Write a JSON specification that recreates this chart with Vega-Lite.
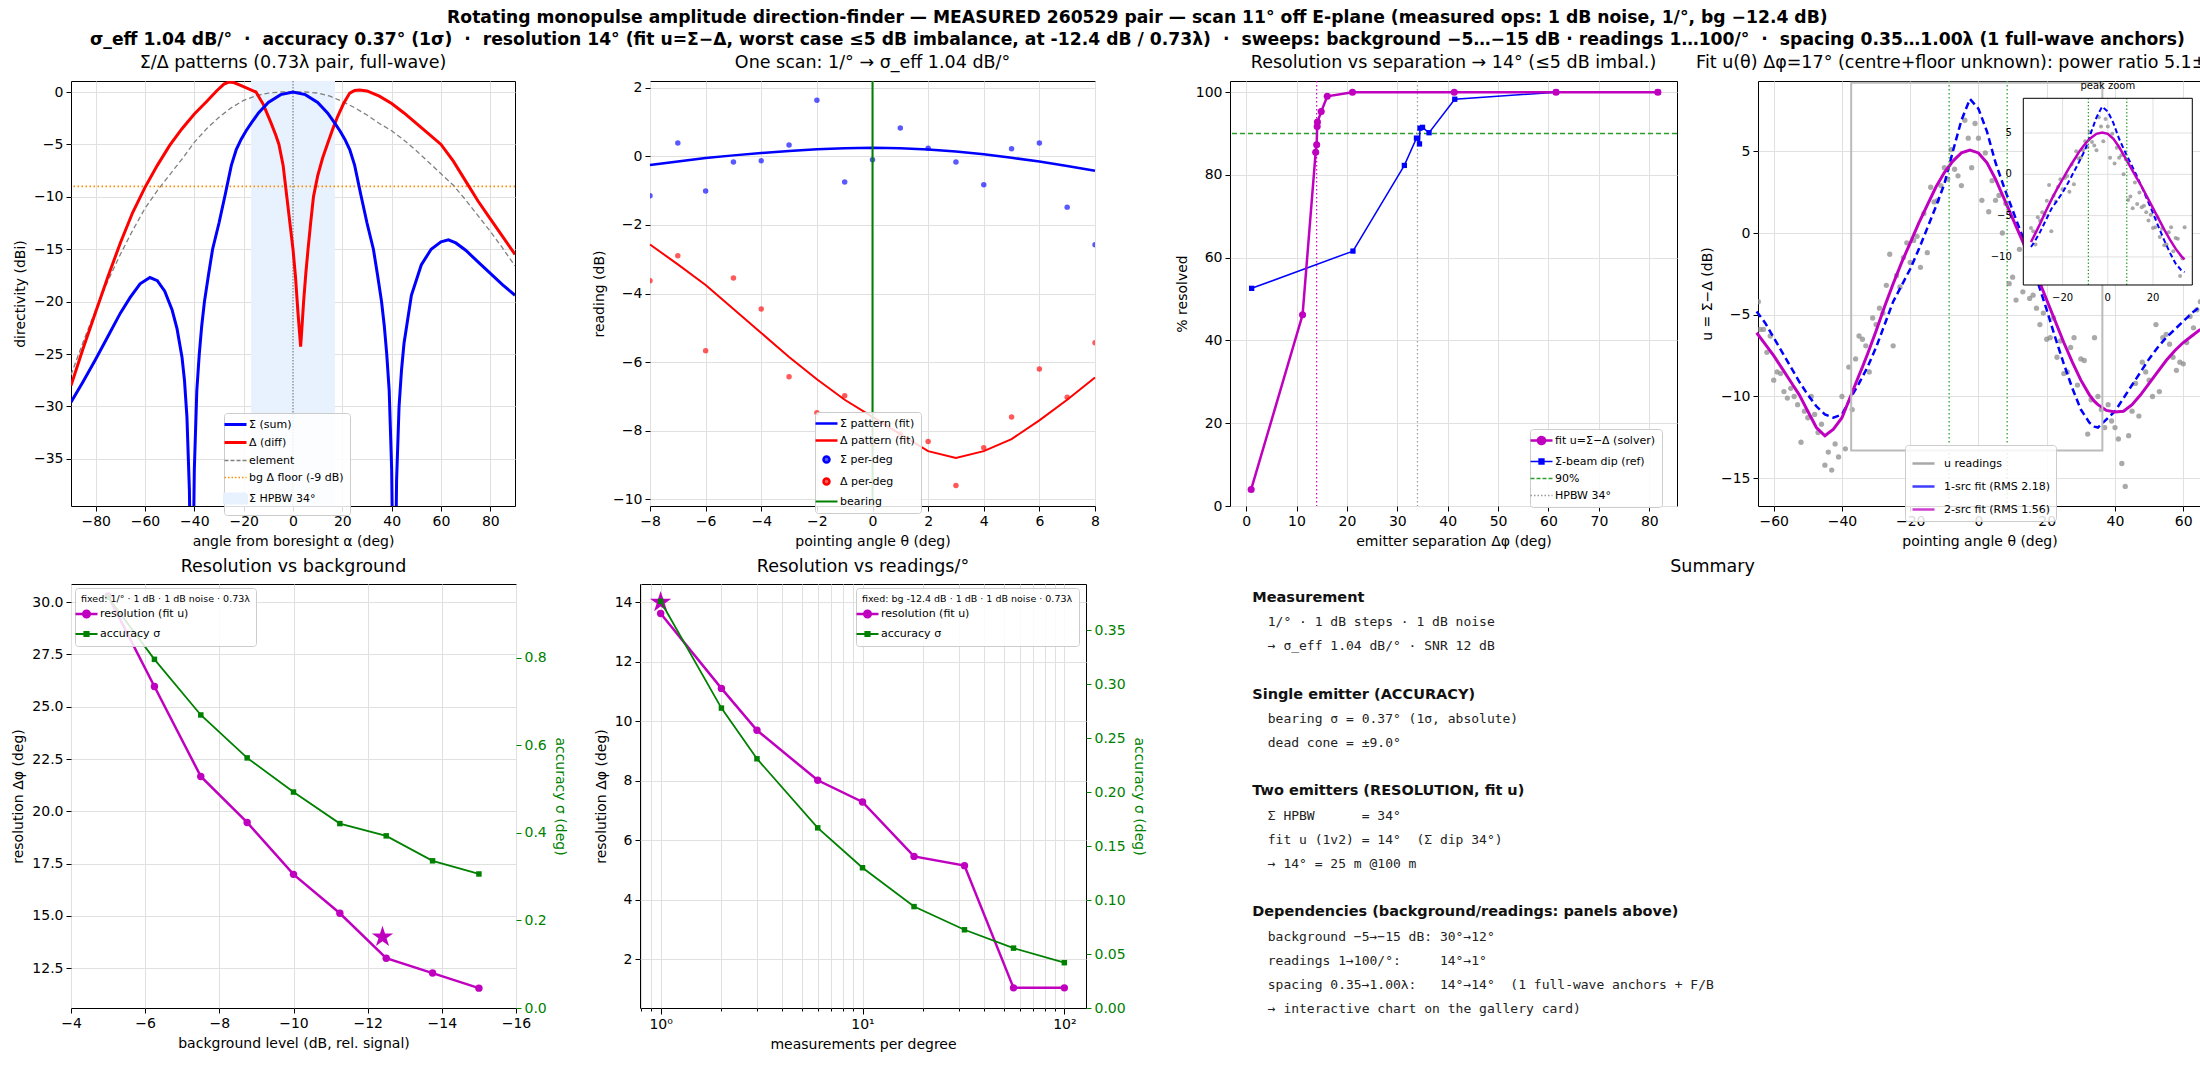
{
  "$schema": "https://vega.github.io/schema/vega-lite/v6.json",
  "background": "white",
  "padding": {"left": 11, "top": 8, "right": 0, "bottom": 0},
  "title": {
    "text": [
      "Rotating monopulse amplitude direction-finder — MEASURED 260529 pair — scan 11° off E-plane (measured ops: 1 dB noise, 1/°, bg −12.4 dB)",
      "σ_eff 1.04 dB/°\u00a0 ·\u00a0 accuracy 0.37° (1σ)\u00a0 ·\u00a0 resolution 14° (fit u=Σ−Δ, worst case ≤5 dB imbalance, at -12.4 dB / 0.73λ)\u00a0 ·\u00a0 sweeps: background −5…−15 dB · readings 1…100/°\u00a0 ·\u00a0 spacing 0.35…1.00λ (1 full-wave anchors)"
    ],
    "fontSize": 17.2,
    "fontWeight": "bold",
    "lineHeight": 22,
    "anchor": "middle",
    "offset": 5
  },
  "datasets": {
    "sum": [
      {"a": -90, "v": -29.6}, {"a": -85, "v": -27.6}, {"a": -80, "v": -25.5}, {"a": -75, "v": -23.3},
      {"a": -70, "v": -21.1}, {"a": -66, "v": -19.6}, {"a": -62, "v": -18.3}, {"a": -58, "v": -17.7},
      {"a": -55, "v": -18.0}, {"a": -52, "v": -19.0}, {"a": -49, "v": -20.8}, {"a": -47, "v": -22.6},
      {"a": -45, "v": -25.3}, {"a": -44, "v": -27.5}, {"a": -43, "v": -31}, {"a": -42, "v": -38},
      {"a": -41, "v": -55}, {"a": -40, "v": -36}, {"a": -39, "v": -28.5}, {"a": -38, "v": -25},
      {"a": -37, "v": -22.3}, {"a": -35.9, "v": -20}, {"a": -34.3, "v": -17.5}, {"a": -32.6, "v": -15},
      {"a": -30, "v": -12.5}, {"a": -27.5, "v": -9.8}, {"a": -25, "v": -7.0}, {"a": -23, "v": -5.5},
      {"a": -21, "v": -4.5}, {"a": -19, "v": -3.7}, {"a": -17, "v": -3.0}, {"a": -14, "v": -2.0},
      {"a": -10, "v": -1.0}, {"a": -5, "v": -0.25}, {"a": 0, "v": 0}, {"a": 5, "v": -0.25},
      {"a": 10, "v": -1.0}, {"a": 14, "v": -2.0}, {"a": 17, "v": -3.0}, {"a": 19, "v": -3.7},
      {"a": 21, "v": -4.5}, {"a": 23, "v": -5.5}, {"a": 25, "v": -7.0}, {"a": 27.5, "v": -9.8},
      {"a": 30, "v": -12.5}, {"a": 32.6, "v": -15}, {"a": 34.3, "v": -17.5}, {"a": 35.9, "v": -20},
      {"a": 37, "v": -22.3}, {"a": 38, "v": -25}, {"a": 39, "v": -28.5}, {"a": 40, "v": -36},
      {"a": 41, "v": -55}, {"a": 42, "v": -37}, {"a": 43, "v": -30}, {"a": 44, "v": -26.5},
      {"a": 45, "v": -24}, {"a": 48, "v": -19.4}, {"a": 52, "v": -16.5}, {"a": 56, "v": -15.0},
      {"a": 60, "v": -14.3}, {"a": 63, "v": -14.1}, {"a": 66, "v": -14.4}, {"a": 70, "v": -15.1},
      {"a": 75, "v": -16.2}, {"a": 80, "v": -17.3}, {"a": 85, "v": -18.4}, {"a": 90, "v": -19.4}
    ],
    "diff": [
      {"a": -90, "v": -28.0}, {"a": -85, "v": -24.4}, {"a": -80, "v": -21.0}, {"a": -75, "v": -17.6},
      {"a": -70, "v": -14.4}, {"a": -65, "v": -11.5}, {"a": -60, "v": -9.1}, {"a": -55, "v": -7.0},
      {"a": -50, "v": -5.1}, {"a": -45, "v": -3.5}, {"a": -40, "v": -2.1}, {"a": -35, "v": -0.9},
      {"a": -31, "v": 0.1}, {"a": -28, "v": 0.75}, {"a": -26, "v": 0.95}, {"a": -24, "v": 0.9},
      {"a": -21, "v": 0.6}, {"a": -18, "v": 0.3}, {"a": -15, "v": 0}, {"a": -12, "v": -1.2},
      {"a": -9, "v": -2.9}, {"a": -7, "v": -4.1}, {"a": -5.7, "v": -5.0}, {"a": -4, "v": -7.0},
      {"a": -2.5, "v": -10}, {"a": -1.2, "v": -12.6}, {"a": 0, "v": -15}, {"a": 1, "v": -17.6},
      {"a": 2, "v": -21}, {"a": 3.1, "v": -24.3}, {"a": 3.7, "v": -22.2}, {"a": 4.3, "v": -20},
      {"a": 5.2, "v": -17.3}, {"a": 6.1, "v": -15}, {"a": 7.2, "v": -12.4}, {"a": 8.3, "v": -10},
      {"a": 10, "v": -8.0}, {"a": 12, "v": -6.3}, {"a": 13.9, "v": -5}, {"a": 16, "v": -3.6},
      {"a": 18, "v": -2.4}, {"a": 20.5, "v": -1.1}, {"a": 23, "v": -0.1}, {"a": 25, "v": 0.15},
      {"a": 27, "v": 0.2}, {"a": 30, "v": 0.1}, {"a": 35, "v": -0.4}, {"a": 40, "v": -1.1},
      {"a": 45, "v": -2.0}, {"a": 50, "v": -3.0}, {"a": 55, "v": -4.0}, {"a": 60, "v": -5.0},
      {"a": 65, "v": -6.6}, {"a": 70, "v": -8.5}, {"a": 75, "v": -10.4}, {"a": 80, "v": -12.1},
      {"a": 85, "v": -13.8}, {"a": 90, "v": -15.5}
    ],
    "elem": [
      {"a": -90, "v": -27.0}, {"a": -85, "v": -23.8}, {"a": -80, "v": -20.8}, {"a": -75, "v": -18.0},
      {"a": -70, "v": -15.5}, {"a": -65, "v": -13.2}, {"a": -60, "v": -11.1}, {"a": -55, "v": -9.4},
      {"a": -50, "v": -7.9}, {"a": -45, "v": -6.4}, {"a": -40, "v": -4.8}, {"a": -35, "v": -3.5},
      {"a": -30, "v": -2.4}, {"a": -25, "v": -1.5}, {"a": -20, "v": -0.8}, {"a": -15, "v": -0.35},
      {"a": -10, "v": -0.1}, {"a": -5, "v": 0}, {"a": 0, "v": 0}, {"a": 5, "v": 0},
      {"a": 10, "v": -0.1}, {"a": 15, "v": -0.4}, {"a": 20, "v": -0.9}, {"a": 25, "v": -1.5},
      {"a": 30, "v": -2.2}, {"a": 35, "v": -3.0}, {"a": 40, "v": -3.7}, {"a": 45, "v": -4.6},
      {"a": 50, "v": -5.6}, {"a": 55, "v": -6.7}, {"a": 60, "v": -7.8}, {"a": 65, "v": -8.9},
      {"a": 70, "v": -10.3}, {"a": 75, "v": -11.8}, {"a": 80, "v": -13.3}, {"a": 85, "v": -14.9},
      {"a": 90, "v": -16.6}
    ],
    "p2pts": [
      {"th": -8, "s": -1.15, "d": -3.63}, {"th": -7, "s": 0.39, "d": -2.9}, {"th": -6, "s": -1.01, "d": -5.67},
      {"th": -5, "s": -0.16, "d": -3.55}, {"th": -4, "s": -0.13, "d": -4.45}, {"th": -3, "s": 0.33, "d": -6.43},
      {"th": -2, "s": 1.64, "d": -7.48}, {"th": -1, "s": -0.75, "d": -6.98}, {"th": 0, "s": -0.1, "d": -8.4},
      {"th": 1, "s": 0.83, "d": -8.09}, {"th": 2, "s": 0.24, "d": -8.32}, {"th": 3, "s": -0.16, "d": -9.6},
      {"th": 4, "s": -0.83, "d": -8.5}, {"th": 5, "s": 0.22, "d": -7.6}, {"th": 6, "s": 0.39, "d": -6.2},
      {"th": 7, "s": -1.48, "d": -7.03}, {"th": 8, "s": -2.58, "d": -5.44}
    ],
    "p2fit": [
      {"th": -8, "s": -0.25, "d": -2.57}, {"th": -7, "s": -0.15, "d": -3.15}, {"th": -6, "s": -0.05, "d": -3.75},
      {"th": -5, "s": 0.03, "d": -4.45}, {"th": -4, "s": 0.1, "d": -5.15}, {"th": -3, "s": 0.16, "d": -5.85},
      {"th": -2, "s": 0.21, "d": -6.5}, {"th": -1, "s": 0.24, "d": -7.1}, {"th": 0, "s": 0.25, "d": -7.6},
      {"th": 1, "s": 0.24, "d": -8.1}, {"th": 2, "s": 0.2, "d": -8.6}, {"th": 3, "s": 0.14, "d": -8.8},
      {"th": 4, "s": 0.06, "d": -8.6}, {"th": 5, "s": -0.04, "d": -8.25}, {"th": 6, "s": -0.15, "d": -7.7},
      {"th": 7, "s": -0.28, "d": -7.1}, {"th": 8, "s": -0.42, "d": -6.45}
    ],
    "p3fit": [
      {"sep": 1, "r": 4.0}, {"sep": 11.2, "r": 46.2}, {"sep": 13.8, "r": 85.5}, {"sep": 14.0, "r": 87.3},
      {"sep": 14.1, "r": 91.7}, {"sep": 14.15, "r": 92.8}, {"sep": 14.9, "r": 95.3}, {"sep": 16.1, "r": 99.0},
      {"sep": 21.1, "r": 100}, {"sep": 41.3, "r": 100}, {"sep": 61.5, "r": 100}, {"sep": 81.7, "r": 100}
    ],
    "p3dip": [
      {"sep": 1.1, "r": 52.6}, {"sep": 21.2, "r": 61.6}, {"sep": 31.4, "r": 82.3}, {"sep": 33.8, "r": 88.9},
      {"sep": 34.4, "r": 87.5}, {"sep": 34.5, "r": 91.3}, {"sep": 35.0, "r": 91.5}, {"sep": 36.3, "r": 90.2},
      {"sep": 41.4, "r": 98.3}, {"sep": 61.5, "r": 100}, {"sep": 81.7, "r": 100}
    ],
    "p4pts": [
      {"x": -64.5, "u": -4.2}, {"x": -64, "u": -5.9}, {"x": -63, "u": -5.9}, {"x": -62, "u": -7.3},
      {"x": -61, "u": -6.3}, {"x": -60, "u": -9.0}, {"x": -59, "u": -8.5}, {"x": -58, "u": -8.6},
      {"x": -57, "u": -9.7}, {"x": -56, "u": -10.1}, {"x": -55, "u": -9.5}, {"x": -54, "u": -10.0},
      {"x": -53, "u": -10.5}, {"x": -52, "u": -12.8}, {"x": -51, "u": -10.9}, {"x": -50, "u": -11.3},
      {"x": -49, "u": -10.0}, {"x": -48, "u": -11.1}, {"x": -47, "u": -12.2}, {"x": -46, "u": -11.7},
      {"x": -45, "u": -14.2}, {"x": -44, "u": -13.4}, {"x": -43, "u": -14.5}, {"x": -42, "u": -12.9},
      {"x": -41, "u": -13.7}, {"x": -40, "u": -10.0}, {"x": -39, "u": -13.2}, {"x": -38, "u": -8.2},
      {"x": -37, "u": -10.8}, {"x": -36, "u": -7.7}, {"x": -35, "u": -6.3}, {"x": -34, "u": -6.5},
      {"x": -33, "u": -6.9}, {"x": -32, "u": -8.5}, {"x": -31, "u": -5.2}, {"x": -30, "u": -5.6},
      {"x": -29, "u": -4.6}, {"x": -28, "u": -4.9}, {"x": -27, "u": -3.2}, {"x": -26, "u": -1.3},
      {"x": -25, "u": -6.9}, {"x": -24, "u": -2.6}, {"x": -23, "u": -3.3}, {"x": -22, "u": -1.5},
      {"x": -21, "u": -0.6}, {"x": -20, "u": -1.8}, {"x": -19, "u": -0.45}, {"x": -18, "u": -0.2},
      {"x": -17, "u": -2.1}, {"x": -16, "u": 1.2}, {"x": -15, "u": -1.2}, {"x": -14, "u": 2.8},
      {"x": -13, "u": 1.9}, {"x": -12, "u": 2.0}, {"x": -11, "u": 2.9}, {"x": -10, "u": 4.0},
      {"x": -9, "u": 3.3}, {"x": -8, "u": 5.1}, {"x": -7, "u": 3.9}, {"x": -6, "u": 3.5},
      {"x": -5, "u": 2.9}, {"x": -4, "u": 6.9}, {"x": -3, "u": 5.8}, {"x": -2, "u": 4.0},
      {"x": -1, "u": 6.7}, {"x": 0, "u": 5.8}, {"x": 1, "u": 2.0}, {"x": 2, "u": 4.9},
      {"x": 3, "u": 1.3}, {"x": 4, "u": 3.2}, {"x": 5, "u": 2.0}, {"x": 6, "u": 2.3},
      {"x": 7, "u": 0.0}, {"x": 8, "u": 1.8}, {"x": 9, "u": -3.1}, {"x": 10, "u": -2.7},
      {"x": 11, "u": -4.1}, {"x": 12, "u": -1.0}, {"x": 13, "u": -3.6}, {"x": 14, "u": -2.2},
      {"x": 15, "u": -4.0}, {"x": 16, "u": -3.8}, {"x": 17, "u": -4.6}, {"x": 18, "u": -5.6},
      {"x": 19, "u": -4.9}, {"x": 20, "u": -6.5}, {"x": 21, "u": -6.4}, {"x": 22, "u": -5.2},
      {"x": 23, "u": -7.6}, {"x": 24, "u": -6.6}, {"x": 25, "u": -8.6}, {"x": 26, "u": -8.5},
      {"x": 27, "u": -7.0}, {"x": 28, "u": -6.4}, {"x": 29, "u": -9.3}, {"x": 30, "u": -7.7},
      {"x": 31, "u": -7.8}, {"x": 32, "u": -12.3}, {"x": 33, "u": -10.2}, {"x": 34, "u": -6.4},
      {"x": 35, "u": -10.0}, {"x": 36, "u": -10.8}, {"x": 37, "u": -11.9}, {"x": 38, "u": -10.5},
      {"x": 39, "u": -11.5}, {"x": 40, "u": -11.9}, {"x": 41, "u": -12.6}, {"x": 42, "u": -14.1},
      {"x": 43, "u": -15.5}, {"x": 44, "u": -12.4}, {"x": 45, "u": -10.9}, {"x": 46, "u": -9.2},
      {"x": 47, "u": -11.2}, {"x": 48, "u": -7.9}, {"x": 49, "u": -8.5}, {"x": 50, "u": -9.0},
      {"x": 51, "u": -10.0}, {"x": 52, "u": -5.6}, {"x": 53, "u": -9.7}, {"x": 54, "u": -6.4},
      {"x": 55, "u": -6.2}, {"x": 56, "u": -6.8}, {"x": 57, "u": -7.6}, {"x": 58, "u": -8.4},
      {"x": 59, "u": -7.9}, {"x": 60, "u": -8.0}, {"x": 61, "u": -6.7}, {"x": 62, "u": -5.1},
      {"x": 63, "u": -5.8}, {"x": 64, "u": -4.7}, {"x": 65, "u": -4.2}
    ],
    "p4fit": [
      {"x": -65, "b": -4.8, "m": -6.1}, {"x": -62.5, "b": -5.5, "m": -6.8}, {"x": -60, "b": -6.4, "m": -7.5},
      {"x": -57.5, "b": -7.3, "m": -8.3}, {"x": -55, "b": -8.2, "m": -9.1}, {"x": -52.5, "b": -9.1, "m": -9.9},
      {"x": -50, "b": -9.9, "m": -10.9}, {"x": -47.5, "b": -10.6, "m": -11.9}, {"x": -45, "b": -11.1, "m": -12.4},
      {"x": -42.5, "b": -11.3, "m": -12.0}, {"x": -40, "b": -11.1, "m": -11.3}, {"x": -37.5, "b": -10.1, "m": -10.0},
      {"x": -35, "b": -9.2, "m": -8.7}, {"x": -34, "b": -8.8, "m": -8.2}, {"x": -32.5, "b": -8.2, "m": -7.4},
      {"x": -30, "b": -7.0, "m": -6.0}, {"x": -27.5, "b": -5.6, "m": -4.5}, {"x": -25, "b": -4.2, "m": -3.1},
      {"x": -22.5, "b": -3.2, "m": -1.8}, {"x": -20, "b": -2.2, "m": -0.6}, {"x": -17.5, "b": -1.0, "m": 0.6},
      {"x": -15, "b": 0.3, "m": 1.7}, {"x": -12.5, "b": 1.6, "m": 2.8}, {"x": -10, "b": 3.0, "m": 3.7},
      {"x": -7.5, "b": 5.0, "m": 4.4}, {"x": -5, "b": 6.9, "m": 4.9}, {"x": -2.5, "b": 8.2, "m": 5.07},
      {"x": 0, "b": 7.6, "m": 4.9}, {"x": 2.5, "b": 6.2, "m": 4.3}, {"x": 5, "b": 4.3, "m": 3.3},
      {"x": 7.5, "b": 2.8, "m": 2.1}, {"x": 10, "b": 1.4, "m": 0.9}, {"x": 12.5, "b": 0.0, "m": -0.3},
      {"x": 15, "b": -1.5, "m": -1.5}, {"x": 17.5, "b": -3.1, "m": -2.8}, {"x": 20, "b": -4.7, "m": -4.1},
      {"x": 22.5, "b": -6.4, "m": -5.4}, {"x": 25, "b": -8.0, "m": -6.7}, {"x": 27.5, "b": -9.5, "m": -7.9},
      {"x": 30, "b": -10.8, "m": -9.0}, {"x": 32.5, "b": -11.6, "m": -9.9}, {"x": 34, "b": -11.85, "m": -10.3},
      {"x": 35, "b": -11.9, "m": -10.5}, {"x": 37.5, "b": -11.4, "m": -10.85}, {"x": 40, "b": -10.9, "m": -10.95},
      {"x": 42.5, "b": -10.1, "m": -10.9}, {"x": 45, "b": -9.3, "m": -10.5}, {"x": 47.5, "b": -8.5, "m": -9.9},
      {"x": 50, "b": -7.7, "m": -9.2}, {"x": 52.5, "b": -7.0, "m": -8.5}, {"x": 55, "b": -6.4, "m": -7.8},
      {"x": 57.5, "b": -5.9, "m": -7.2}, {"x": 60, "b": -5.4, "m": -6.7}, {"x": 62.5, "b": -4.9, "m": -6.3},
      {"x": 65, "b": -4.5, "m": -5.9}
    ],
    "p5": [
      {"bg": -5, "res": 30.3, "acc": 0.938}, {"bg": -6.25, "res": 25.97, "acc": 0.796},
      {"bg": -7.5, "res": 21.67, "acc": 0.669}, {"bg": -8.75, "res": 19.47, "acc": 0.571},
      {"bg": -10, "res": 16.99, "acc": 0.493}, {"bg": -11.25, "res": 15.13, "acc": 0.421},
      {"bg": -12.5, "res": 12.98, "acc": 0.393}, {"bg": -13.75, "res": 12.27, "acc": 0.336},
      {"bg": -15, "res": 11.55, "acc": 0.306}
    ],
    "p6": [
      {"n": 1, "res": 13.62, "acc": 0.377}, {"n": 2, "res": 11.1, "acc": 0.278},
      {"n": 3, "res": 9.69, "acc": 0.231}, {"n": 6, "res": 8.01, "acc": 0.167},
      {"n": 10, "res": 7.28, "acc": 0.130}, {"n": 18, "res": 5.45, "acc": 0.094},
      {"n": 32, "res": 5.14, "acc": 0.0725}, {"n": 56, "res": 1.03, "acc": 0.0555},
      {"n": 100, "res": 1.03, "acc": 0.042}
    ],
    "summary": [
      {"ln": 0, "k": "h", "t": "Measurement"},
      {"ln": 1, "k": "i", "t": "1/° · 1 dB steps · 1 dB noise"},
      {"ln": 2, "k": "i", "t": "→ σ_eff 1.04 dB/° · SNR 12 dB"},
      {"ln": 4, "k": "h", "t": "Single emitter (ACCURACY)"},
      {"ln": 5, "k": "i", "t": "bearing σ = 0.37° (1σ, absolute)"},
      {"ln": 6, "k": "i", "t": "dead cone = ±9.0°"},
      {"ln": 8, "k": "h", "t": "Two emitters (RESOLUTION, fit u)"},
      {"ln": 9, "k": "i", "t": "Σ HPBW\u00a0\u00a0\u00a0\u00a0\u00a0\u00a0= 34°"},
      {"ln": 10, "k": "i", "t": "fit u (1v2) = 14°\u00a0\u00a0(Σ dip 34°)"},
      {"ln": 11, "k": "i", "t": "→ 14° = 25 m @100 m"},
      {"ln": 13, "k": "h", "t": "Dependencies (background/readings: panels above)"},
      {"ln": 14, "k": "i", "t": "background −5→−15 dB: 30°→12°"},
      {"ln": 15, "k": "i", "t": "readings 1→100/°:\u00a0\u00a0\u00a0\u00a0\u00a014°→1°"},
      {"ln": 16, "k": "i", "t": "spacing 0.35→1.00λ:\u00a0\u00a0\u00a014°→14°\u00a0\u00a0(1 full-wave anchors + F/B"},
      {"ln": 17, "k": "i", "t": "\u00a0→ interactive chart on the gallery card)"}
    ]
  },
  "config": {
    "font": "DejaVu Sans",
    "view": {"stroke": "black", "strokeWidth": 1},
    "axis": {
      "domain": false, "labelFont": "DejaVu Sans", "labelFontSize": 14, "labelColor": "black",
      "titleFont": "DejaVu Sans", "titleFontSize": 14, "titleFontWeight": "normal", "titleColor": "black",
      "tickColor": "black", "tickSize": 5, "labelPadding": 3, "titlePadding": 6,
      "gridColor": "#e0e0e0", "labelFlush": false, "labelOverlap": false
    },
    "title": {"font": "DejaVu Sans", "fontSize": 17.5, "fontWeight": "normal", "color": "black", "offset": 9},
    "legend": {
      "labelFont": "DejaVu Sans", "labelFontSize": 11, "labelColor": "black",
      "titleFont": "DejaVu Sans", "titleFontSize": 9.5, "titleFontWeight": "normal", "titleColor": "black",
      "fillColor": "rgba(255,255,255,0.85)", "strokeColor": "#cccccc", "cornerRadius": 3,
      "padding": 6, "rowPadding": 5, "labelOffset": 8, "symbolSize": 484, "symbolStrokeWidth": 2.5,
      "labelLimit": 400, "titleLimit": 400, "orient": "none"
    }
  },
  "vconcat": [
    {
      "hconcat": [
        {
          "hconcat": [
            {
              "width": 444, "height": 425,
              "title": "Σ/Δ patterns (0.73λ pair, full-wave)",
              "layer": [
                {
                  "data": {"values": [{"lo": -17, "hi": 17}]},
                  "mark": {"type": "rect"},
                  "encoding": {
                    "x": {"field": "lo", "type": "quantitative", "scale": {"domain": [-90, 90], "nice": false, "zero": false},
                          "axis": {"values": [-80, -60, -40, -20, 0, 20, 40, 60, 80], "format": "d", "title": "angle from boresight α (deg)"}},
                    "x2": {"field": "hi"},
                    "color": {
                      "datum": "Σ HPBW 34°", "type": "nominal",
                      "scale": {"domain": ["Σ (sum)", "Δ (diff)", "element", "bg Δ floor (-9 dB)", "Σ HPBW 34°"],
                                "range": ["#0000ff", "#ff0000", "#808080", "#ff8c00", "#e8f2fe"]},
                      "legend": {
                        "title": null, "legendX": 153, "legendY": 332, "symbolType": "stroke",
                        "encode": {"symbols": {"update": {
                          "shape": {"signal": "datum.value === 'Σ HPBW 34°' ? 'M-1,-0.4L1,-0.4L1,0.4L-1,0.4Z' : 'stroke'"},
                          "fill": {"signal": "datum.value === 'Σ HPBW 34°' ? '#e8f2fe' : 'transparent'"},
                          "stroke": {"signal": "datum.value === 'Σ (sum)' ? '#0000ff' : datum.value === 'Δ (diff)' ? '#ff0000' : datum.value === 'element' ? '#808080' : datum.value === 'Σ HPBW 34°' ? '#e8f2fe' : '#ff8c00'"},
                          "strokeWidth": {"signal": "datum.value === 'element' || datum.value === 'bg Δ floor (-9 dB)' ? 1.5 : 3"},
                          "strokeDash": {"signal": "datum.value === 'element' ? [4, 2] : datum.value === 'bg Δ floor (-9 dB)' ? [1.5, 2] : [1, 0]"},
                          "opacity": {"value": 1}
                        }}}
                      }
                    }
                  }
                },
                {
                  "data": {"values": [{"f": -9}]},
                  "mark": {"type": "rule", "strokeWidth": 1.8, "strokeDash": [1.5, 2.5]},
                  "encoding": {
                    "y": {"field": "f", "type": "quantitative", "scale": {"domain": [-39.5, 1.05], "nice": false, "zero": false},
                          "axis": {"values": [0, -5, -10, -15, -20, -25, -30, -35], "format": "d", "title": "directivity (dBi)"}},
                    "color": {"datum": "bg Δ floor (-9 dB)", "type": "nominal"}
                  }
                },
                {
                  "data": {"values": [{"z": 0}]},
                  "mark": {"type": "rule", "color": "#444444", "strokeWidth": 0.8, "strokeDash": [1.5, 1.5]},
                  "encoding": {"x": {"field": "z", "type": "quantitative"}}
                },
                {
                  "data": {"name": "elem"},
                  "mark": {"type": "line", "strokeWidth": 1.3, "strokeDash": [5, 3], "clip": true},
                  "encoding": {
                    "x": {"field": "a", "type": "quantitative"},
                    "y": {"field": "v", "type": "quantitative"},
                    "color": {"datum": "element", "type": "nominal"}
                  }
                },
                {
                  "data": {"name": "diff"},
                  "mark": {"type": "line", "strokeWidth": 3, "clip": true},
                  "encoding": {
                    "x": {"field": "a", "type": "quantitative"},
                    "y": {"field": "v", "type": "quantitative"},
                    "color": {"datum": "Δ (diff)", "type": "nominal"}
                  }
                },
                {
                  "data": {"name": "sum"},
                  "mark": {"type": "line", "strokeWidth": 3, "clip": true},
                  "encoding": {
                    "x": {"field": "a", "type": "quantitative"},
                    "y": {"field": "v", "type": "quantitative"},
                    "color": {"datum": "Σ (sum)", "type": "nominal"}
                  }
                }
              ]
            },
            {
              "width": 445, "height": 425,
              "title": "One scan: 1/° → σ_eff 1.04 dB/°",
              "layer": [
                {
                  "data": {"name": "p2fit"},
                  "mark": {"type": "line", "strokeWidth": 2.5},
                  "encoding": {
                    "x": {"field": "th", "type": "quantitative", "scale": {"domain": [-8, 8], "nice": false, "zero": false},
                          "axis": {"values": [-8, -6, -4, -2, 0, 2, 4, 6, 8], "format": "d", "title": "pointing angle θ (deg)"}},
                    "y": {"field": "s", "type": "quantitative", "scale": {"domain": [-10.2, 2.2], "nice": false, "zero": false},
                          "axis": {"values": [-10, -8, -6, -4, -2, 0, 2], "format": "d", "title": "reading (dB)"}},
                    "color": {
                      "datum": "Σ pattern (fit)", "type": "nominal",
                      "scale": {"domain": ["Σ pattern (fit)", "Δ pattern (fit)", "Σ per-deg", "Δ per-deg", "bearing"],
                                "range": ["#0000ff", "#ff0000", "#0000ff", "#ff0000", "#008000"]},
                      "legend": {
                        "title": null, "legendX": 165, "legendY": 331, "symbolType": "stroke",
                        "encode": {"symbols": {"update": {
                          "shape": {"signal": "datum.value === 'Σ per-deg' || datum.value === 'Δ per-deg' ? 'circle' : 'stroke'"},
                          "size": {"signal": "datum.value === 'Σ per-deg' || datum.value === 'Δ per-deg' ? 36 : 484"},
                          "fill": {"signal": "datum.value === 'Σ per-deg' ? '#0000ff' : datum.value === 'Δ per-deg' ? '#ff0000' : 'transparent'"},
                          "fillOpacity": {"value": 0.65},
                          "stroke": {"signal": "datum.value === 'Σ pattern (fit)' ? '#0000ff' : datum.value === 'Δ pattern (fit)' ? '#ff0000' : datum.value === 'bearing' ? '#008000' : 'transparent'"},
                          "strokeWidth": {"signal": "datum.value === 'bearing' ? 2 : 2.5"},
                          "opacity": {"value": 1}
                        }}}
                      }
                    }
                  }
                },
                {
                  "data": {"name": "p2fit"},
                  "mark": {"type": "line", "strokeWidth": 2},
                  "encoding": {
                    "x": {"field": "th", "type": "quantitative"},
                    "y": {"field": "d", "type": "quantitative"},
                    "color": {"datum": "Δ pattern (fit)", "type": "nominal"}
                  }
                },
                {
                  "data": {"name": "p2pts"},
                  "mark": {"type": "point", "filled": true, "size": 30, "opacity": 0.65, "clip": true},
                  "encoding": {
                    "x": {"field": "th", "type": "quantitative"},
                    "y": {"field": "s", "type": "quantitative"},
                    "color": {"datum": "Σ per-deg", "type": "nominal"}
                  }
                },
                {
                  "data": {"name": "p2pts"},
                  "mark": {"type": "point", "filled": true, "size": 30, "opacity": 0.65, "clip": true},
                  "encoding": {
                    "x": {"field": "th", "type": "quantitative"},
                    "y": {"field": "d", "type": "quantitative"},
                    "color": {"datum": "Δ per-deg", "type": "nominal"}
                  }
                },
                {
                  "data": {"values": [{"z": 0}]},
                  "mark": {"type": "rule", "strokeWidth": 2},
                  "encoding": {
                    "x": {"field": "z", "type": "quantitative"},
                    "color": {"datum": "bearing", "type": "nominal"}
                  }
                }
              ]
            }
          ],
          "spacing": 74,
          "resolve": {"scale": {"color": "independent"}, "legend": {"color": "independent"}}
        },
        {
          "hconcat": [
            {
              "width": 447, "height": 425,
              "title": "Resolution vs separation → 14° (≤5 dB imbal.)",
              "layer": [
                {
                  "data": {"values": [{"h": 90}]},
                  "mark": {"type": "rule", "strokeWidth": 1.6, "strokeDash": [5, 3]},
                  "encoding": {
                    "y": {"field": "h", "type": "quantitative", "scale": {"domain": [0, 102.7], "nice": false},
                          "axis": {"values": [0, 20, 40, 60, 80, 100], "format": "d", "title": "% resolved"}},
                    "color": {
                      "datum": "90%", "type": "nominal",
                      "scale": {"domain": ["fit u=Σ−Δ (solver)", "Σ-beam dip (ref)", "90%", "HPBW 34°"],
                                "range": ["#bf00bf", "#0000ff", "#2ca02c", "#999999"]},
                      "legend": {
                        "title": null, "legendX": 300, "legendY": 348, "symbolType": "stroke",
                        "encode": {"symbols": {"update": {
                          "shape": {"signal": "datum.value === 'fit u=Σ−Δ (solver)' ? 'M-1,0L1,0M0.32,0A0.32,0.32,0,1,1,-0.32,0A0.32,0.32,0,1,1,0.32,0Z' : datum.value === 'Σ-beam dip (ref)' ? 'M-1,0L1,0M-0.22,-0.22L0.22,-0.22L0.22,0.22L-0.22,0.22Z' : 'stroke'"},
                          "fill": {"signal": "datum.value === 'fit u=Σ−Δ (solver)' ? '#bf00bf' : datum.value === 'Σ-beam dip (ref)' ? '#0000ff' : 'transparent'"},
                          "stroke": {"signal": "datum.value === 'fit u=Σ−Δ (solver)' ? '#bf00bf' : datum.value === 'Σ-beam dip (ref)' ? '#0000ff' : datum.value === '90%' ? '#2ca02c' : '#999999'"},
                          "strokeWidth": {"signal": "datum.value === 'fit u=Σ−Δ (solver)' ? 2.5 : 1.5"},
                          "strokeDash": {"signal": "datum.value === '90%' ? [4, 2] : datum.value === 'HPBW 34°' ? [1.5, 2] : [1, 0]"},
                          "opacity": {"value": 1}
                        }}}
                      }
                    }
                  }
                },
                {
                  "data": {"values": [{"v": 34}]},
                  "mark": {"type": "rule", "strokeWidth": 1.2, "strokeDash": [1.5, 2.5]},
                  "encoding": {
                    "x": {"field": "v", "type": "quantitative", "scale": {"domain": [-3.2, 85.5], "nice": false, "zero": false},
                          "axis": {"values": [0, 10, 20, 30, 40, 50, 60, 70, 80], "format": "d", "title": "emitter separation Δφ (deg)"}},
                    "color": {"datum": "HPBW 34°", "type": "nominal"}
                  }
                },
                {
                  "data": {"values": [{"v": 14}]},
                  "mark": {"type": "rule", "color": "#bf00bf", "strokeWidth": 1.2, "strokeDash": [1.5, 2.5]},
                  "encoding": {"x": {"field": "v", "type": "quantitative"}}
                },
                {
                  "data": {"name": "p3dip"},
                  "mark": {"type": "line", "strokeWidth": 1.5, "point": {"shape": "square", "filled": true, "size": 28}},
                  "encoding": {
                    "x": {"field": "sep", "type": "quantitative"},
                    "y": {"field": "r", "type": "quantitative"},
                    "color": {"datum": "Σ-beam dip (ref)", "type": "nominal"}
                  }
                },
                {
                  "data": {"name": "p3fit"},
                  "mark": {"type": "line", "strokeWidth": 2.5, "point": {"filled": true, "size": 50}},
                  "encoding": {
                    "x": {"field": "sep", "type": "quantitative"},
                    "y": {"field": "r", "type": "quantitative"},
                    "color": {"datum": "fit u=Σ−Δ (solver)", "type": "nominal"}
                  }
                }
              ]
            },
            {
              "width": 443, "height": 425,
              "title": "Fit u(θ) Δφ=17° (centre+floor unknown): power ratio 5.1±0.6 dB",
              "resolve": {"scale": {"x": "independent", "y": "independent"}},
              "layer": [
                {
                  "layer": [
                    {
                      "data": {"name": "p4pts"},
                      "mark": {"type": "point", "filled": true, "size": 28, "opacity": 0.75, "clip": true},
                      "encoding": {
                        "x": {"field": "x", "type": "quantitative", "scale": {"domain": [-64.6, 65.2], "nice": false, "zero": false},
                              "axis": {"values": [-60, -40, -20, 0, 20, 40, 60], "format": "d", "title": "pointing angle θ (deg)"}},
                        "y": {"field": "u", "type": "quantitative", "scale": {"domain": [-16.7, 9.3], "nice": false, "zero": false},
                              "axis": {"values": [-15, -10, -5, 0, 5], "format": "d", "title": "u = Σ−Δ (dB)"}},
                        "color": {
                          "datum": "u readings", "type": "nominal",
                          "scale": {"domain": ["u readings", "1-src fit (RMS 2.18)", "2-src fit (RMS 1.56)"],
                                    "range": ["#8c8c8c", "#0000ff", "#bf00bf"]},
                          "legend": {
                            "title": null, "legendX": 147, "legendY": 364, "symbolType": "stroke",
                            "encode": {"symbols": {"update": {
                              "shape": {"signal": "datum.value === 'u readings' ? 'circle' : 'stroke'"},
                              "size": {"signal": "datum.value === 'u readings' ? 36 : 484"},
                              "fill": {"signal": "datum.value === 'u readings' ? '#8c8c8c' : 'transparent'"},
                              "stroke": {"signal": "datum.value === 'u readings' ? 'transparent' : datum.value === '1-src fit (RMS 2.18)' ? '#0000ff' : '#bf00bf'"},
                              "strokeWidth": {"value": 2.5},
                              "strokeDash": {"signal": "datum.value === '1-src fit (RMS 2.18)' ? [5, 3] : [1, 0]"},
                              "opacity": {"value": 1}
                            }}}
                          }
                        }
                      }
                    },
                    {
                      "data": {"name": "p4fit"},
                      "mark": {"type": "line", "strokeWidth": 2.5, "strokeDash": [7, 4]},
                      "encoding": {
                        "x": {"field": "x", "type": "quantitative"},
                        "y": {"field": "b", "type": "quantitative"},
                        "color": {"datum": "1-src fit (RMS 2.18)", "type": "nominal"}
                      }
                    },
                    {
                      "data": {"name": "p4fit"},
                      "mark": {"type": "line", "strokeWidth": 3},
                      "encoding": {
                        "x": {"field": "x", "type": "quantitative"},
                        "y": {"field": "m", "type": "quantitative"},
                        "color": {"datum": "2-src fit (RMS 1.56)", "type": "nominal"}
                      }
                    },
                    {
                      "data": {"values": [{"v": -8.6}, {"v": 8.4}]},
                      "mark": {"type": "rule", "color": "#2ca02c", "strokeWidth": 1.3, "strokeDash": [1.5, 2.5]},
                      "encoding": {"x": {"field": "v", "type": "quantitative"}}
                    },
                    {
                      "data": {"values": [{"x1": -37.3, "x2": 36.3, "y1": -13.3, "y2": 9.2}]},
                      "mark": {"type": "rect", "filled": false, "stroke": "#bbbbbb", "strokeWidth": 2},
                      "encoding": {
                        "x": {"field": "x1", "type": "quantitative"}, "x2": {"field": "x2"},
                        "y": {"field": "y1", "type": "quantitative"}, "y2": {"field": "y2"}
                      }
                    }
                  ]
                },
                {
                  "layer": [
                    {
                      "data": {"values": [{"x1": -37.4, "x2": 37.4, "y1": -13.4, "y2": 9.2}]},
                      "mark": {"type": "rect", "color": "white"},
                      "encoding": {
                        "x": {"field": "x1", "type": "quantitative", "scale": {"domain": [-154.82, 41.25], "nice": false, "zero": false}, "axis": null},
                        "x2": {"field": "x2"},
                        "y": {"field": "y1", "type": "quantitative", "scale": {"domain": [-40.153, 11.294], "nice": false, "zero": false}, "axis": null},
                        "y2": {"field": "y2"}
                      }
                    },
                    {
                      "data": {"values": [{"v": -20}, {"v": 0}, {"v": 20}]},
                      "mark": {"type": "rule", "color": "#e0e0e0", "strokeWidth": 1},
                      "encoding": {
                        "x": {"field": "v", "type": "quantitative"},
                        "y": {"datum": -13.4, "type": "quantitative"},
                        "y2": {"datum": 9.2}
                      }
                    },
                    {
                      "data": {"values": [{"h": -10}, {"h": -5}, {"h": 0}, {"h": 5}]},
                      "mark": {"type": "rule", "color": "#e0e0e0", "strokeWidth": 1},
                      "encoding": {
                        "y": {"field": "h", "type": "quantitative"},
                        "x": {"datum": -37.4, "type": "quantitative"},
                        "x2": {"datum": 37.4}
                      }
                    },
                    {
                      "data": {"name": "p4pts"},
                      "transform": [{"filter": "datum.x >= -34 && datum.x <= 34"}],
                      "mark": {"type": "point", "filled": true, "size": 16, "opacity": 0.75, "color": "#8c8c8c"},
                      "encoding": {
                        "x": {"field": "x", "type": "quantitative"},
                        "y": {"field": "u", "type": "quantitative"}
                      }
                    },
                    {
                      "data": {"name": "p4fit"},
                      "transform": [{"filter": "datum.x >= -34 && datum.x <= 34"}],
                      "mark": {"type": "line", "strokeWidth": 2, "strokeDash": [5, 3], "color": "#0000ff"},
                      "encoding": {
                        "x": {"field": "x", "type": "quantitative"},
                        "y": {"field": "b", "type": "quantitative"}
                      }
                    },
                    {
                      "data": {"name": "p4fit"},
                      "transform": [{"filter": "datum.x >= -34 && datum.x <= 34"}],
                      "mark": {"type": "line", "strokeWidth": 2.5, "color": "#bf00bf"},
                      "encoding": {
                        "x": {"field": "x", "type": "quantitative"},
                        "y": {"field": "m", "type": "quantitative"}
                      }
                    },
                    {
                      "data": {"values": [{"v": -8.6}, {"v": 8.4}]},
                      "mark": {"type": "rule", "color": "#2ca02c", "strokeWidth": 1.2, "strokeDash": [1.5, 2]},
                      "encoding": {
                        "x": {"field": "v", "type": "quantitative"},
                        "y": {"datum": -13.4, "type": "quantitative"},
                        "y2": {"datum": 9.2}
                      }
                    },
                    {
                      "data": {"values": [{"x1": -37.4, "x2": 37.4, "y1": -13.4, "y2": 9.2}]},
                      "mark": {"type": "rect", "filled": false, "stroke": "black", "strokeWidth": 1},
                      "encoding": {
                        "x": {"field": "x1", "type": "quantitative"}, "x2": {"field": "x2"},
                        "y": {"field": "y1", "type": "quantitative"}, "y2": {"field": "y2"}
                      }
                    },
                    {
                      "data": {"values": [{"v": -20, "t": "−20"}, {"v": 0, "t": "0"}, {"v": 20, "t": "20"}]},
                      "mark": {"type": "text", "fontSize": 10, "baseline": "middle", "align": "center"},
                      "encoding": {
                        "x": {"field": "v", "type": "quantitative"},
                        "y": {"datum": -15.0, "type": "quantitative"},
                        "text": {"field": "t"}
                      }
                    },
                    {
                      "data": {"values": [{"v": 5, "t": "5"}, {"v": 0, "t": "0"}, {"v": -5, "t": "−5"}, {"v": -10, "t": "−10"}]},
                      "mark": {"type": "text", "fontSize": 10, "baseline": "middle", "align": "right"},
                      "encoding": {
                        "y": {"field": "v", "type": "quantitative"},
                        "x": {"datum": -42.5, "type": "quantitative"},
                        "text": {"field": "t"}
                      }
                    },
                    {
                      "data": {"values": [{"t": "peak zoom"}]},
                      "mark": {"type": "text", "fontSize": 10, "baseline": "middle", "align": "center"},
                      "encoding": {
                        "x": {"datum": 0, "type": "quantitative"},
                        "y": {"datum": 10.7, "type": "quantitative"},
                        "text": {"field": "t"}
                      }
                    }
                  ]
                }
              ]
            }
          ],
          "spacing": 16,
          "resolve": {"scale": {"color": "independent"}, "legend": {"color": "independent"}}
        }
      ],
      "spacing": 73,
      "resolve": {"scale": {"color": "independent"}, "legend": {"color": "independent"}}
    },
    {
      "hconcat": [
        {
          "hconcat": [
            {
              "width": 445, "height": 424,
              "title": "Resolution vs background",
              "data": {"name": "p5"},
              "resolve": {"scale": {"y": "independent"}},
              "layer": [
                {
                  "mark": {"type": "line", "strokeWidth": 2.5, "point": {"filled": true, "size": 55}},
                  "encoding": {
                    "x": {"field": "bg", "type": "quantitative", "scale": {"domain": [-4, -16], "nice": false, "zero": false},
                          "axis": {"values": [-4, -6, -8, -10, -12, -14, -16], "format": "d", "title": "background level (dB, rel. signal)"}},
                    "y": {"field": "res", "type": "quantitative", "scale": {"domain": [10.6, 30.87], "nice": false, "zero": false},
                          "axis": {"values": [12.5, 15, 17.5, 20, 22.5, 25, 27.5, 30], "format": ".1f", "title": "resolution Δφ (deg)"}},
                    "color": {
                      "datum": "resolution (fit u)", "type": "nominal",
                      "scale": {"domain": ["resolution (fit u)", "accuracy σ"], "range": ["#bf00bf", "#008000"]},
                      "legend": {
                        "title": "fixed: 1/° · 1 dB · 1 dB noise · 0.73λ", "legendX": 4, "legendY": 4, "symbolType": "stroke",
                        "encode": {"symbols": {"update": {
                          "shape": {"signal": "datum.value === 'accuracy σ' ? 'M-1,0L1,0M-0.2,-0.2L0.2,-0.2L0.2,0.2L-0.2,0.2Z' : 'M-1,0L1,0M0.3,0A0.3,0.3,0,1,1,-0.3,0A0.3,0.3,0,1,1,0.3,0Z'"},
                          "fill": {"signal": "datum.value === 'accuracy σ' ? '#008000' : '#bf00bf'"},
                          "stroke": {"signal": "datum.value === 'accuracy σ' ? '#008000' : '#bf00bf'"},
                          "strokeWidth": {"signal": "datum.value === 'accuracy σ' ? 1.8 : 2.5"},
                          "opacity": {"value": 1}
                        }}}
                      }
                    }
                  }
                },
                {
                  "data": {"values": [{"bg": -12.4, "res": 14}]},
                  "mark": {"type": "point", "filled": true, "color": "#bf00bf", "opacity": 1, "size": 500,
                           "shape": "M0,-1L0.2245,-0.309L0.951,-0.309L0.363,0.118L0.588,0.809L0,0.382L-0.588,0.809L-0.363,0.118L-0.951,-0.309L-0.2245,-0.309Z"},
                  "encoding": {
                    "x": {"field": "bg", "type": "quantitative"},
                    "y": {"field": "res", "type": "quantitative", "scale": {"domain": [10.6, 30.87], "nice": false, "zero": false}, "axis": null}
                  }
                },
                {
                  "mark": {"type": "line", "strokeWidth": 1.8, "point": {"shape": "square", "filled": true, "size": 30}},
                  "encoding": {
                    "x": {"field": "bg", "type": "quantitative"},
                    "y": {"field": "acc", "type": "quantitative", "scale": {"domain": [0, 0.968], "nice": false},
                          "axis": {"orient": "right", "values": [0, 0.2, 0.4, 0.6, 0.8], "format": ".1f", "title": "accuracy σ (deg)",
                                   "grid": false, "labelColor": "#008000", "titleColor": "#008000", "tickColor": "#008000"}},
                    "color": {"datum": "accuracy σ", "type": "nominal"}
                  }
                }
              ]
            },
            {
              "width": 446, "height": 424,
              "title": "Resolution vs readings/°",
              "data": {"name": "p6"},
              "resolve": {"scale": {"y": "independent"}},
              "layer": [
                {
                  "mark": {"type": "line", "strokeWidth": 2.5, "point": {"filled": true, "size": 55}},
                  "encoding": {
                    "x": {"field": "n", "type": "quantitative", "scale": {"type": "log", "domain": [0.79, 128], "nice": false},
                          "axis": {"values": [0.8, 0.9, 1, 2, 3, 4, 5, 6, 7, 8, 9, 10, 20, 30, 40, 50, 60, 70, 80, 90, 100],
                                   "labelExpr": "datum.value === 1 ? '10⁰' : datum.value === 10 ? '10¹' : datum.value === 100 ? '10²' : ''",
                                   "tickSize": {"condition": {"test": "datum.value === 1 || datum.value === 10 || datum.value === 100", "value": 6}, "value": 3},
                                   "title": "measurements per degree"}},
                    "y": {"field": "res", "type": "quantitative", "scale": {"domain": [0.353, 14.61], "nice": false, "zero": false},
                          "axis": {"values": [2, 4, 6, 8, 10, 12, 14], "format": "d", "title": "resolution Δφ (deg)"}},
                    "color": {
                      "datum": "resolution (fit u)", "type": "nominal",
                      "scale": {"domain": ["resolution (fit u)", "accuracy σ"], "range": ["#bf00bf", "#008000"]},
                      "legend": {
                        "title": "fixed: bg -12.4 dB · 1 dB · 1 dB noise · 0.73λ", "legendX": 216, "legendY": 4, "symbolType": "stroke",
                        "encode": {"symbols": {"update": {
                          "shape": {"signal": "datum.value === 'accuracy σ' ? 'M-1,0L1,0M-0.2,-0.2L0.2,-0.2L0.2,0.2L-0.2,0.2Z' : 'M-1,0L1,0M0.3,0A0.3,0.3,0,1,1,-0.3,0A0.3,0.3,0,1,1,0.3,0Z'"},
                          "fill": {"signal": "datum.value === 'accuracy σ' ? '#008000' : '#bf00bf'"},
                          "stroke": {"signal": "datum.value === 'accuracy σ' ? '#008000' : '#bf00bf'"},
                          "strokeWidth": {"signal": "datum.value === 'accuracy σ' ? 1.8 : 2.5"},
                          "opacity": {"value": 1}
                        }}}
                      }
                    }
                  }
                },
                {
                  "data": {"values": [{"n": 1, "res": 14}]},
                  "mark": {"type": "point", "filled": true, "color": "#bf00bf", "opacity": 1, "size": 500,
                           "shape": "M0,-1L0.2245,-0.309L0.951,-0.309L0.363,0.118L0.588,0.809L0,0.382L-0.588,0.809L-0.363,0.118L-0.951,-0.309L-0.2245,-0.309Z"},
                  "encoding": {
                    "x": {"field": "n", "type": "quantitative"},
                    "y": {"field": "res", "type": "quantitative", "scale": {"domain": [0.353, 14.61], "nice": false, "zero": false}, "axis": null}
                  }
                },
                {
                  "mark": {"type": "line", "strokeWidth": 1.8, "point": {"shape": "square", "filled": true, "size": 30}},
                  "encoding": {
                    "x": {"field": "n", "type": "quantitative"},
                    "y": {"field": "acc", "type": "quantitative", "scale": {"domain": [0, 0.393], "nice": false},
                          "axis": {"orient": "right", "values": [0, 0.05, 0.1, 0.15, 0.2, 0.25, 0.3, 0.35], "format": ".2f", "title": "accuracy σ (deg)",
                                   "grid": false, "labelColor": "#008000", "titleColor": "#008000", "tickColor": "#008000"}},
                    "color": {"datum": "accuracy σ", "type": "nominal"}
                  }
                }
              ]
            }
          ],
          "spacing": 26,
          "resolve": {"scale": {"color": "independent"}, "legend": {"color": "independent"}}
        },
        {
          "width": 969, "height": 424,
          "title": "Summary",
          "view": {"stroke": null},
          "data": {"name": "summary"},
          "layer": [
            {
              "transform": [{"filter": "datum.k === 'h'"}],
              "mark": {"type": "text", "font": "DejaVu Sans", "fontWeight": "bold", "fontSize": 14.5, "align": "left", "baseline": "middle", "color": "#111111"},
              "encoding": {
                "x": {"datum": 0.025, "type": "quantitative", "scale": {"domain": [0, 1], "nice": false, "zero": false}, "axis": null},
                "y": {"field": "ln", "type": "quantitative", "scale": {"domain": [-0.566, 16.95], "reverse": true, "nice": false, "zero": false}, "axis": null},
                "text": {"field": "t"}
              }
            },
            {
              "transform": [{"filter": "datum.k === 'i'"}],
              "mark": {"type": "text", "font": "DejaVu Sans Mono", "fontSize": 13, "align": "left", "baseline": "middle", "color": "#222222"},
              "encoding": {
                "x": {"datum": 0.041, "type": "quantitative"},
                "y": {"field": "ln", "type": "quantitative"},
                "text": {"field": "t"}
              }
            }
          ]
        }
      ],
      "spacing": 82,
      "resolve": {"scale": {"color": "independent"}, "legend": {"color": "independent"}}
    }
  ],
  "spacing": 8,
  "resolve": {"scale": {"color": "independent"}, "legend": {"color": "independent"}}
}
